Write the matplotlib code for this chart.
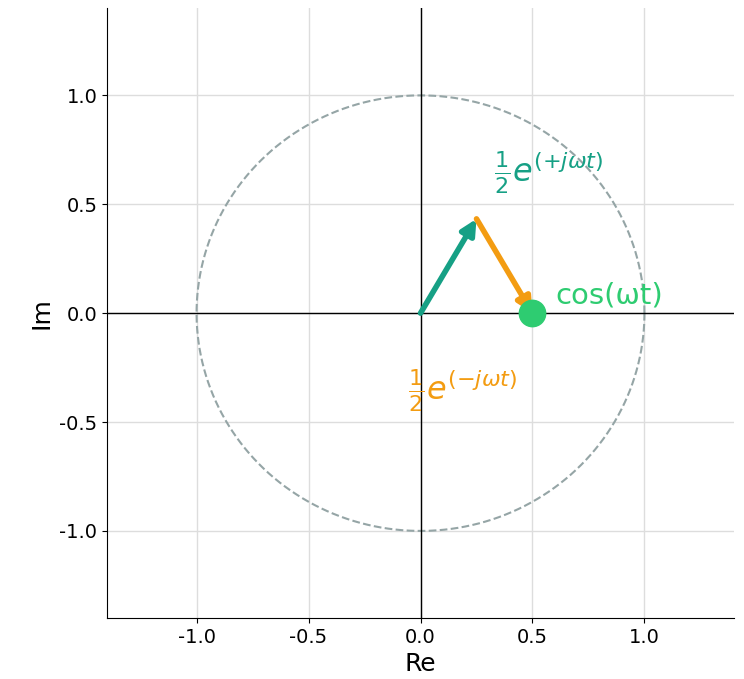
import numpy as np
import matplotlib
matplotlib.use("Agg")
import matplotlib.pyplot as plt

# phasor values
omega_t = np.pi / 3
amp = 0.5
ticks = [-1.0, -0.5, 0.0, 0.5, 1.0]
tick_labels = ["-1.0", "-0.5", "0.0", "0.5", "1.0"]

teal = "#16a085"
orange = "#f39c12"
green = "#2ecc71"

fig = plt.figure(figsize=(7.44, 6.79), dpi=100)
ax = fig.add_axes([0.1438, 0.0898, 0.8428, 0.898])

theta = np.linspace(0, 2 * np.pi, 400)
ax.plot(np.cos(theta), np.sin(theta), "--", color="#95a5a6", lw=1.5)
ax.axhline(0, color="black", lw=1)
ax.axvline(0, color="black", lw=1)

p = amp * np.exp(1j * omega_t)
q = amp * np.exp(-1j * omega_t)
head = "-|>,head_length=0.9,head_width=0.45"
ax.annotate("", xy=(p.real, p.imag), xytext=(0, 0),
            arrowprops=dict(arrowstyle=head, color=teal, lw=4, shrinkA=0, shrinkB=0))
ax.annotate("", xy=(p.real + q.real, p.imag + q.imag), xytext=(p.real, p.imag),
            arrowprops=dict(arrowstyle=head, color=orange, lw=4, shrinkA=0, shrinkB=0))
ax.plot([p.real + q.real], [0], "o", color=green, ms=19, zorder=5)

ax.text(0.33, 0.6, r"$\frac{1}{2}e^{(+j\omega t)}$", color=teal, fontsize=23)
ax.text(0.6, 0.08, "cos(ωt)", color=green, fontsize=21, va="center")
ax.text(-0.055, -0.4, r"$\frac{1}{2}e^{(-j\omega t)}$", color=orange, fontsize=23)

ax.set_xlim(-1.4, 1.4)
ax.set_ylim(-1.4, 1.4)
ax.set_xticks(ticks)
ax.set_xticklabels(tick_labels)
ax.set_yticks(ticks)
ax.set_yticklabels(tick_labels)
ax.tick_params(labelsize=14)
ax.set_xlabel("Re", fontsize=18)
ax.set_ylabel("Im", fontsize=18)
ax.grid(True, color="#dddddd", lw=1)
ax.set_axisbelow(True)
ax.spines["top"].set_visible(False)
ax.spines["right"].set_visible(False)

fig.savefig("out.png", dpi=100)
